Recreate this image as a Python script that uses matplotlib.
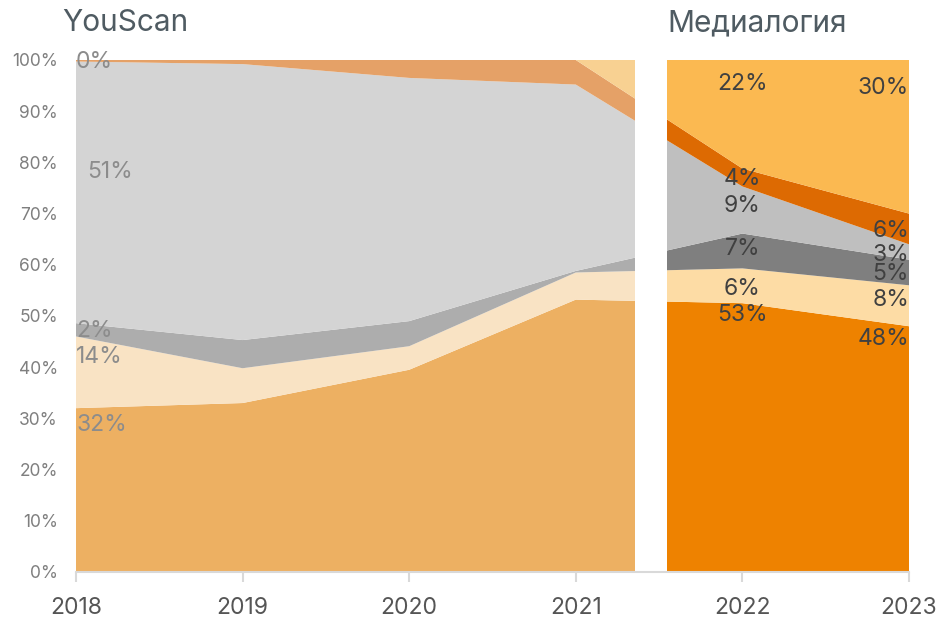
import matplotlib
matplotlib.use("Agg")
import matplotlib.pyplot as plt
from matplotlib.patches import Rectangle
import numpy as np

plt.rcParams['font.family'] = ['Inter', 'DejaVu Sans']

years = [2018, 2019, 2020, 2021, 2022, 2023]
# stacked shares, bottom to top (%)
s1 = [32.0, 33.0, 39.5, 53.2, 52.5, 48.0]
s2 = [14.0, 6.8, 4.6, 5.3, 6.8, 8.0]
s3 = [2.6, 5.5, 4.9, 0.3, 6.8, 5.0]
s4 = [51.1, 53.9, 47.5, 36.4, 9.2, 3.0]
s5 = [0.3, 0.8, 3.5, 4.8, 3.5, 6.0]
s6 = [0.0, 0.0, 0.0, 0.0, 21.2, 30.0]

panel_titles = ["YouScan", "Медиалогия"]
left_range = (2018, 2021.355)
right_range = (2021.546, 2023)

left_colors = ["#EDB062", "#F9E3C4", "#ADADAD", "#D4D4D4", "#E5A167", "#F8D192"]
right_colors = ["#EE8200", "#FDDCA5", "#7F7F7F", "#BFBFBF", "#DD6A02", "#FBB951"]

# label texts and positions (x, y in data coords)
left_labels = [("32%", 2018.0, 28.8), ("14%", 2018.0, 42.0), ("2%", 2018.0, 47.1),
               ("51%", 2018.07, 78.1), ("0%", 2018.0, 99.6)]
right_labels_2022 = [("53%", 50.1), ("6%", 55.3), ("7%", 63.0), ("9%", 71.5), ("4%", 76.8), ("22%", 95.3)]
right_labels_2023 = [("48%", 45.6), ("8%", 53.1), ("5%", 58.2), ("3%", 61.9), ("6%", 66.6), ("30%", 94.6)]

W, H = 938, 618
fig = plt.figure(figsize=(W / 100, H / 100), dpi=100)
ax = fig.add_axes([76 / W, 1 - 572 / H, (909 - 76) / W, (572 - 60) / H])

x = np.array(years, dtype=float)
stack = [s1, s2, s3, s4, s5, s6]

polys_l = ax.stackplot(x, *stack, colors=left_colors, linewidth=0)
clip_l = Rectangle((left_range[0], 0), left_range[1] - left_range[0], 100,
                   transform=ax.transData, facecolor="none", edgecolor="none")
ax.add_patch(clip_l)
for p in polys_l:
    p.set_clip_path(clip_l)

polys_r = ax.stackplot(x, *stack, colors=right_colors, linewidth=0)
clip_r = Rectangle((right_range[0], 0), right_range[1] - right_range[0], 100,
                   transform=ax.transData, facecolor="none", edgecolor="none")
ax.add_patch(clip_r)
for p in polys_r:
    p.set_clip_path(clip_r)

ax.set_xlim(2018, 2023)
ax.set_ylim(0, 100)
ax.set_xticks(years)
ax.set_xticklabels([str(y) for y in years])
ax.set_yticks(np.arange(0, 101, 10))
ax.set_yticklabels([f"{v}%" for v in range(0, 101, 10)])

for s in ["top", "right", "left"]:
    ax.spines[s].set_visible(False)
ax.spines["bottom"].set_color("#D9D9D9")
ax.spines["bottom"].set_linewidth(1.5)
ax.tick_params(axis="x", colors="#D9D9D9", length=7, width=1.5, labelcolor="#555555",
               labelsize=16.5, pad=11)
ax.tick_params(axis="y", length=0, labelcolor="#7F7F7F", labelsize=12.5, pad=13)

for txt, xv, yv in left_labels:
    ax.text(xv, yv, txt, ha="left", va="center", fontsize=16.5, color="#8C8C8C")
for txt, yv in right_labels_2022:
    ax.text(2022.0, yv, txt, ha="center", va="center", fontsize=16.5, color="#404040")
for txt, yv in right_labels_2023:
    ax.text(2023.0, yv, txt, ha="right", va="center", fontsize=16.5, color="#404040")

fig.text(62 / W, 1 - 23 / H, panel_titles[0], ha="left", va="center", fontsize=21.5, color="#4F5B62")
fig.text(667 / W, 1 - 23 / H, panel_titles[1], ha="left", va="center", fontsize=21.5, color="#4F5B62")

fig.savefig("out.png", dpi=100)
